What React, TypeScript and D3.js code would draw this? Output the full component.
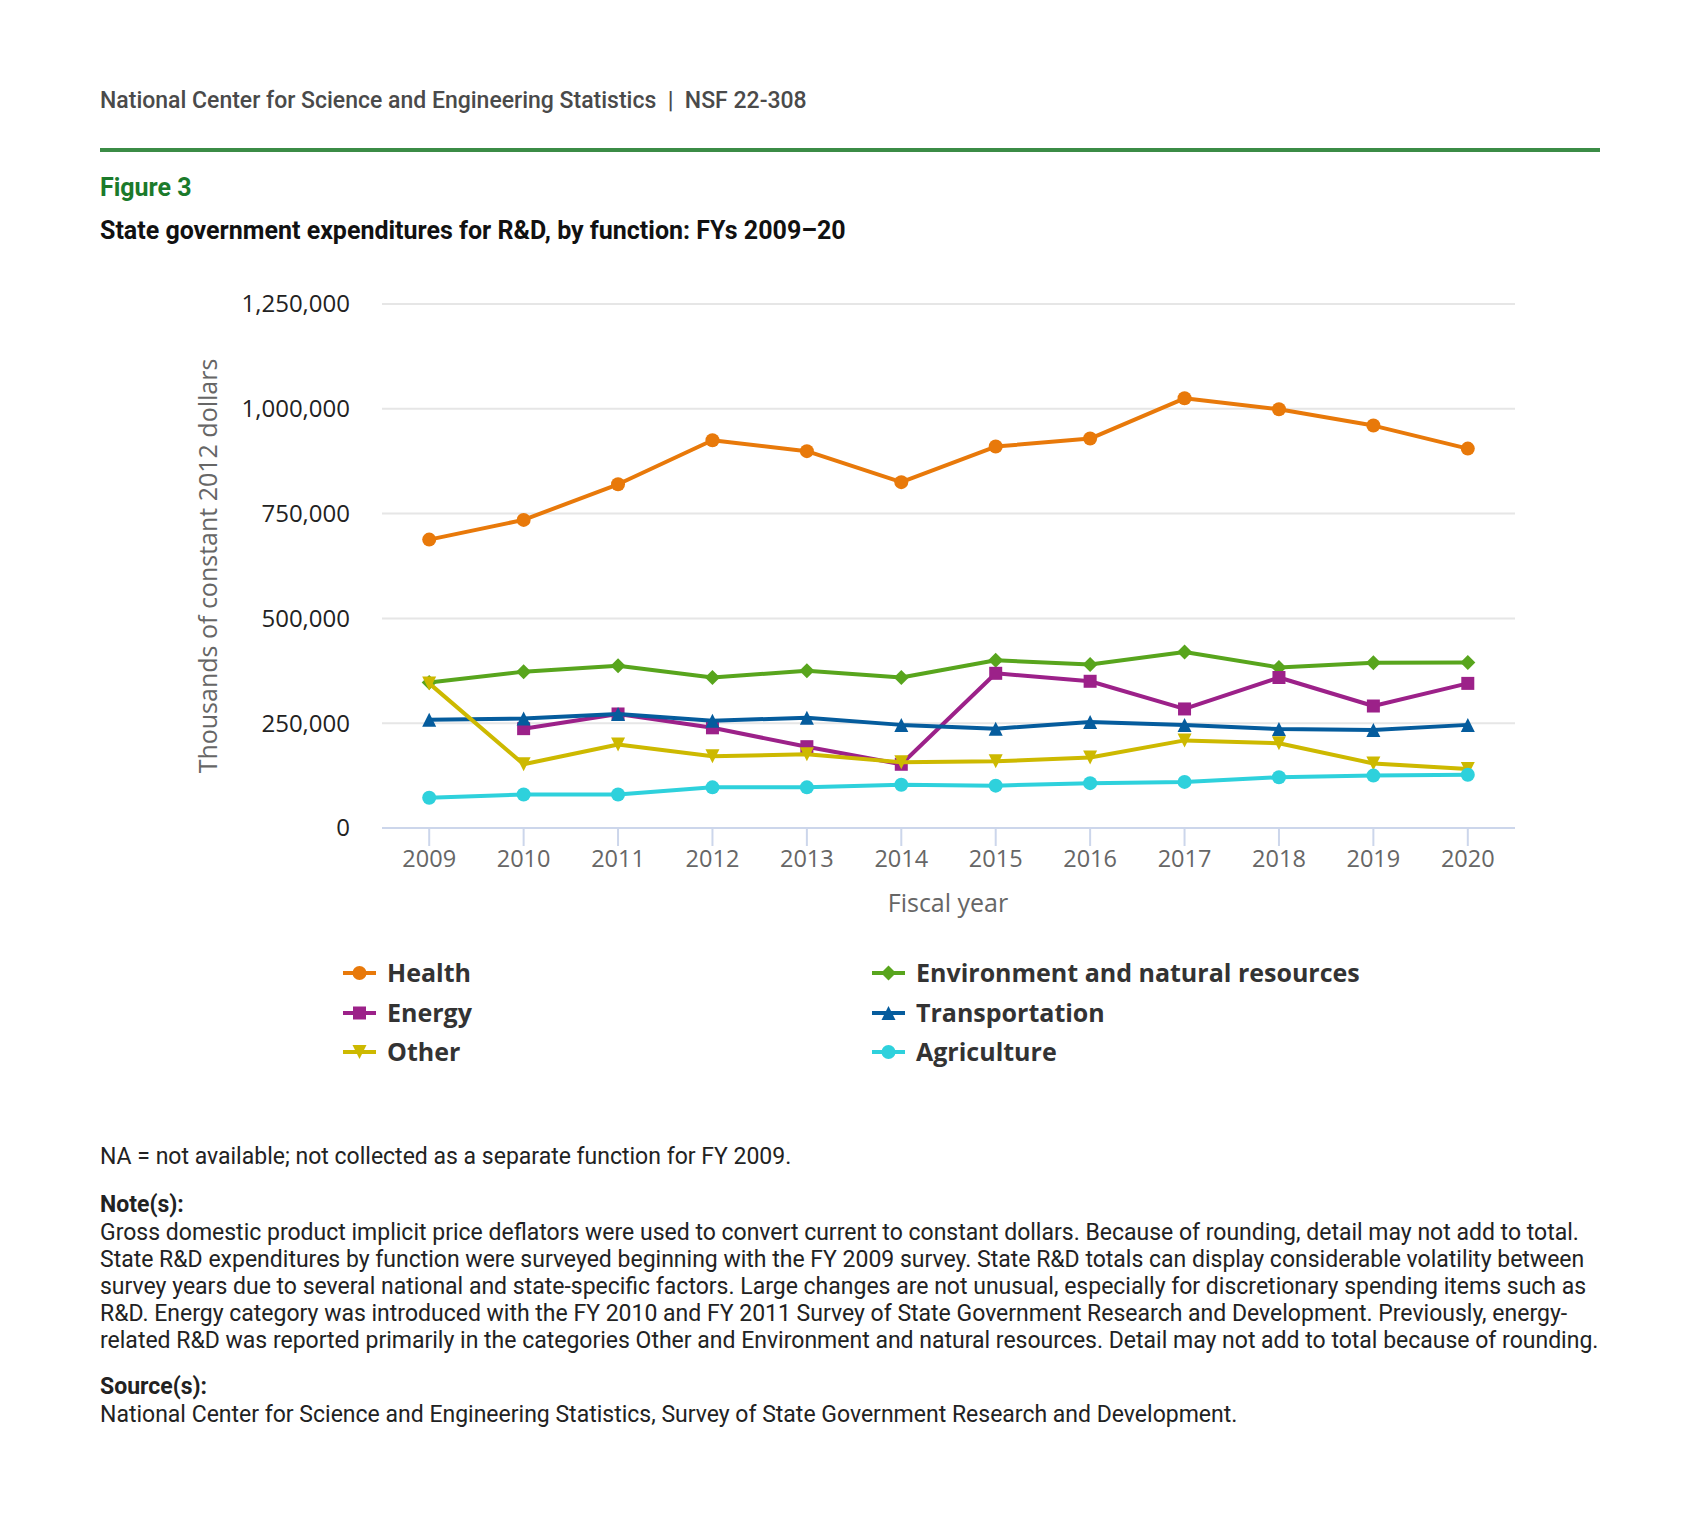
import React from 'react'
import * as d3 from 'd3'

const years = ['2009', '2010', '2011', '2012', '2013', '2014', '2015', '2016', '2017', '2018', '2019', '2020']
const health = [688000, 735000, 820000, 925000, 899000, 825000, 910000, 929000, 1025000, 999000, 960000, 905000]
const environment = [347000, 373000, 387000, 359000, 375000, 359000, 400000, 390000, 420000, 383000, 394000, 395000]
const energy = [null, 237000, 272000, 239000, 194000, 152000, 369000, 350000, 284000, 359000, 291000, 345000]
const transportation = [258000, 261000, 272000, 256000, 263000, 246000, 237000, 253000, 246000, 236000, 234000, 246000]
const other = [345000, 152000, 199000, 171000, 176000, 157000, 159000, 168000, 209000, 202000, 154000, 141000]
const agriculture = [72000, 80000, 80000, 97000, 97000, 103000, 101000, 107000, 110000, 121000, 125000, 127000]
const yTicks = [0, 250000, 500000, 750000, 1000000, 1250000]

const seriesNames = ['Health', 'Environment and natural resources', 'Energy', 'Transportation', 'Other', 'Agriculture']
const seriesValues = [health, environment, energy, transportation, other, agriculture]
const seriesColors = ['#e8790a', '#58a51d', '#9c2189', '#055c9d', '#cdb900', '#2ed1dc']
const seriesMarkers = ['circle', 'diamond', 'square', 'triangle', 'triangle-down', 'circle']

const noteLines = [
	'Gross domestic product implicit price deflators were used to convert current to constant dollars. Because of rounding, detail may not add to total.',
	'State R&D expenditures by function were surveyed beginning with the FY 2009 survey. State R&D totals can display considerable volatility between',
	'survey years due to several national and state-specific factors. Large changes are not unusual, especially for discretionary spending items such as',
	'R&D. Energy category was introduced with the FY 2010 and FY 2011 Survey of State Government Research and Development. Previously, energy-',
	'related R&D was reported primarily in the categories Other and Environment and natural resources. Detail may not add to total because of rounding.',
]

const marker = (kind: string, cx: number, cy: number, color: string, key?: string) => {
	const r = 7
	if (kind === 'circle') return <circle key={key} cx={cx} cy={cy} r={r} fill={color} />
	let d = ''
	if (kind === 'square') d = `M${cx - 6.5},${cy - 6.5}h13v13h-13Z`
	else if (kind === 'diamond') d = `M${cx},${cy - 7.5}L${cx + 7.5},${cy}L${cx},${cy + 7.5}L${cx - 7.5},${cy}Z`
	else if (kind === 'triangle') d = `M${cx},${cy - 7}L${cx + 7},${cy + 7}L${cx - 7},${cy + 7}Z`
	else d = `M${cx - 7},${cy - 7}L${cx + 7},${cy - 7}L${cx},${cy + 7}Z`
	return <path key={key} d={d} fill={color} />
}

const App = () => {
	const width = 1700,
		height = 1536

	const x = d3.scalePoint().domain(years).range([382, 1515]).padding(0.5)
	const y = d3.scaleLinear().domain([0, 1250000]).range([828, 304])

	const line = d3
		.line<number | null>()
		.defined((d) => d !== null)
		.x((_, i) => x(years[i])!)
		.y((d) => y(d as number))

	const fmt = d3.format(',')
	const roboto = 'Roboto, sans-serif'
	const open = '"Open Sans", sans-serif'

	// legend: two columns, three rows
	const legendX = [343, 872]
	const legendY = [973, 1013, 1052]

	return (
		<svg
			width={width}
			height={height}
			style={{ position: 'absolute', left: 0, top: 0, background: '#fff' }}
		>
			<rect width={width} height={height} fill='#fff' />
			<text x={100} y={108} fontFamily={roboto} fontWeight={500} fontSize={23} fill='#4a4a4a' xmlSpace='preserve'>
				National Center for Science and Engineering Statistics  |  NSF 22-308
			</text>
			<rect x={100} y={148} width={1500} height={4} fill='#3b8c46' />
			<text x={100} y={196} fontFamily={roboto} fontWeight={700} fontSize={25} fill='#1b7a2b'>
				Figure 3
			</text>
			<text x={100} y={239} fontFamily={roboto} fontWeight={700} fontSize={25} fill='#111'>
				State government expenditures for R&amp;D, by function: FYs 2009–20
			</text>

			{/* grid */}
			{yTicks.slice(1).map((t) => (
				<line key={t} x1={382} x2={1515} y1={y(t)} y2={y(t)} stroke='#e6e6e6' strokeWidth={2} />
			))}
			<line x1={382} x2={1515} y1={y(0)} y2={y(0)} stroke='#ccd6eb' strokeWidth={2} />
			{years.map((yr) => (
				<line key={yr} x1={x(yr)} x2={x(yr)} y1={y(0)} y2={y(0) + 18} stroke='#ccd6eb' strokeWidth={2} />
			))}
			{yTicks.map((t) => (
				<text key={t} x={350} y={y(t)} dy='0.35em' textAnchor='end' fontFamily={open} fontSize={24} fill='#222'>
					{fmt(t)}
				</text>
			))}
			{years.map((yr) => (
				<text key={yr} x={x(yr)} y={867} textAnchor='middle' fontFamily={open} fontSize={23.5} fill='#666'>
					{yr}
				</text>
			))}
			<text
				transform={`translate(208,${(y(0) + y(1250000)) / 2}) rotate(-90)`}
				dy='0.35em'
				textAnchor='middle'
				fontFamily={open}
				fontSize={25}
				fill='#666'
			>
				Thousands of constant 2012 dollars
			</text>
			<text x={948} y={912} textAnchor='middle' fontFamily={open} fontSize={25} fill='#666'>
				Fiscal year
			</text>

			{/* series */}
			{seriesValues.map((vals, s) => (
				<g key={seriesNames[s]}>
					<path d={line(vals) || ''} fill='none' stroke={seriesColors[s]} strokeWidth={4} strokeLinejoin='round' strokeLinecap='round' />
					{vals.map((v, i) =>
						v === null ? null : marker(seriesMarkers[s], x(years[i])!, y(v), seriesColors[s], years[i])
					)}
				</g>
			))}

			{/* legend */}
			{seriesNames.map((name, s) => {
				const lx = legendX[s % 2]
				const ly = legendY[Math.floor(s / 2)]
				return (
					<g key={name}>
						<line x1={lx} x2={lx + 33} y1={ly} y2={ly} stroke={seriesColors[s]} strokeWidth={4} />
						{marker(seriesMarkers[s], lx + 16.5, ly, seriesColors[s])}
						<text x={lx + 44} y={ly} dy='0.35em' fontFamily={open} fontWeight={700} fontSize={25} fill='#333'>
							{name}
						</text>
					</g>
				)
			})}

			{/* footnotes */}
			<text x={100} y={1164} fontFamily={roboto} fontSize={23} fill='#222'>
				NA = not available; not collected as a separate function for FY 2009.
			</text>
			<text x={100} y={1212} fontFamily={roboto} fontWeight={700} fontSize={23} fill='#222'>
				Note(s):
			</text>
			{noteLines.map((l, i) => (
				<text key={i} x={100} y={1240 + i * 27} fontFamily={roboto} fontSize={23} fill='#222'>
					{l}
				</text>
			))}
			<text x={100} y={1394} fontFamily={roboto} fontWeight={700} fontSize={23} fill='#222'>
				Source(s):
			</text>
			<text x={100} y={1422} fontFamily={roboto} fontSize={23} fill='#222'>
				National Center for Science and Engineering Statistics, Survey of State Government Research and Development.
			</text>
		</svg>
	)
}

export default App
